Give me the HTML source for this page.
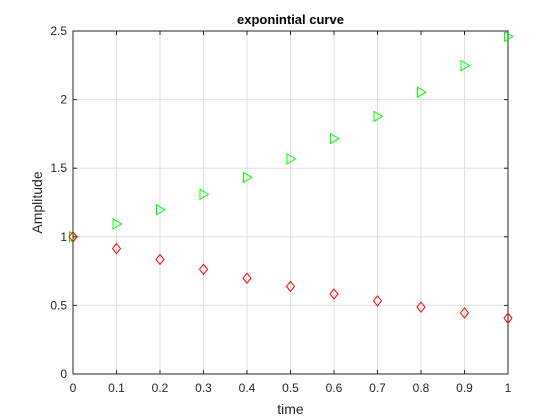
<!DOCTYPE html>
<html><head><meta charset="utf-8"><style>body{margin:0;background:#fff}svg{display:block;font-family:"Liberation Sans",sans-serif}</style></head>
<body>
<svg id="chart" width="560" height="420" viewBox="0 0 560 420"></svg>
<script>
const xValues = [0,0.1,0.2,0.3,0.4,0.5,0.6,0.7,0.8,0.9,1];
const growthSeries = [1,1.094,1.197,1.310,1.433,1.568,1.716,1.878,2.054,2.248,2.460];
const decaySeries = [1,0.914,0.835,0.763,0.698,0.638,0.583,0.533,0.487,0.445,0.407];
const xTicks = [0,0.1,0.2,0.3,0.4,0.5,0.6,0.7,0.8,0.9,1];
const xTickLabels = ["0","0.1","0.2","0.3","0.4","0.5","0.6","0.7","0.8","0.9","1"];
const yTicks = [0,0.5,1,1.5,2,2.5];
const yTickLabels = ["0","0.5","1","1.5","2","2.5"];

const L=73,R=508,T=31,B=374;
const sx=v=>L+(v-0)/(1-0)*(R-L);
const sy=v=>B-(v-0)/(2.5-0)*(B-T);
const svg=document.getElementById('chart');
const NS='http://www.w3.org/2000/svg';
function mk(tag,attrs,parent){const e=document.createElementNS(NS,tag);for(const k in attrs)e.setAttribute(k,attrs[k]);(parent||svg).appendChild(e);return e;}

const grid=mk('g',{});


xTicks.forEach(t=>{const x=sx(t);mk('line',{x1:x,x2:x,y1:T,y2:B,stroke:'#dfdfdf','stroke-width':1},grid);});
yTicks.forEach(t=>{const y=sy(t);mk('line',{x1:L,x2:R,y1:y,y2:y,stroke:'#dfdfdf','stroke-width':1},grid);});

const box=mk('rect',{x:L,y:T,width:R-L,height:B-T,fill:'none',stroke:'#262626','stroke-width':1});



xTicks.forEach((t,i)=>{const x=sx(t);
 mk('line',{x1:x,x2:x,y1:B,y2:B-4,stroke:'#262626'});
 mk('line',{x1:x,x2:x,y1:T,y2:T+4,stroke:'#262626'});
 const tx=mk('text',{x:x,y:B+18,'text-anchor':'middle','font-size':12,fill:'#262626'});tx.textContent=xTickLabels[i];
 
 
});
yTicks.forEach((t,i)=>{const y=sy(t);
 mk('line',{x1:L,x2:L+4,y1:y,y2:y,stroke:'#262626'});
 mk('line',{x1:R,x2:R-4,y1:y,y2:y,stroke:'#262626'});
 const tx=mk('text',{x:L-6,y:y+4,'text-anchor':'end','font-size':12,fill:'#262626'});tx.textContent=yTickLabels[i];
 
 
});

xValues.forEach((xv,i)=>{
 const x=sx(xv),y=sy(growthSeries[i]);
 const p=mk('polygon',{points:`${x-3.5},${y-5} ${x+5},${y} ${x-3.5},${y+5}`,fill:'none',stroke:'#00ff00','stroke-width':1});
 
 
 const y2=sy(decaySeries[i]);
 const d=mk('polygon',{points:`${x},${y2-5} ${x+4},${y2} ${x},${y2+5} ${x-4},${y2}`,fill:'none',stroke:'#ff0000','stroke-width':1});
 
 
});

const title=mk('text',{x:(L+R)/2,y:24,'text-anchor':'middle','font-size':13,'font-weight':'bold',fill:'#000'});title.textContent='exponintial curve';


const xl=mk('text',{x:(L+R)/2,y:414,'text-anchor':'middle','font-size':14,fill:'#262626'});xl.textContent='time';


const yl=mk('text',{x:0,y:0,'text-anchor':'middle','font-size':14,fill:'#262626',transform:`translate(42,${(T+B)/2}) rotate(-90)`});yl.textContent='Amplitude';


</script>
</body></html>
